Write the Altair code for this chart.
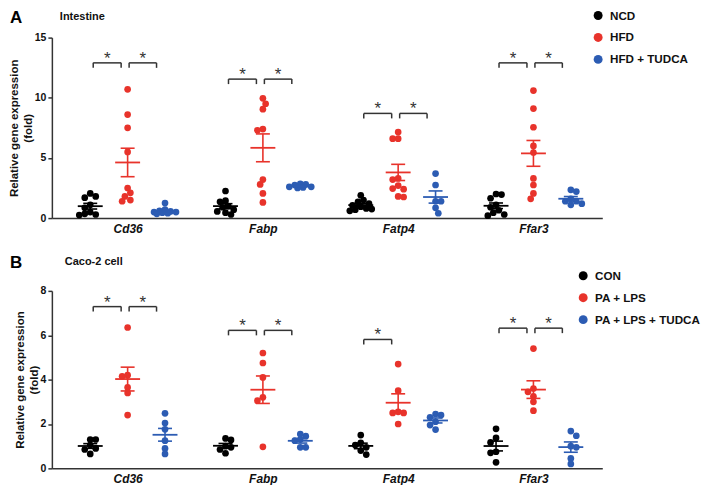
import math
import altair as alt
import pandas as pd

genes = ["Cd36", "Fabp", "Fatp4", "Ffar3"]

groups_a = ["NCD", "HFD", "HFD + TUDCA"]
groups_b = ["CON", "PA + LPS", "PA + LPS + TUDCA"]
group_colors = ["#000000", "#e8332b", "#2c5cb3"]

# Panel A - Intestine (one list per gene, in the order of `genes`)
a_ncd = [
    [1.8, 2.05, 1.7, 1.1, 0.85, 0.5, 0.3, 0.25, 0.35],
    [2.25, 1.45, 1.35, 1.0, 0.9, 0.7, 0.55, 0.45, 0.3],
    [1.9, 1.5, 1.35, 1.2, 1.05, 0.95, 0.8, 0.7, 0.6, 0.75],
    [1.95, 2.0, 1.65, 1.1, 0.9, 0.65, 0.45, 0.3, 0.2],
]
a_hfd = [
    [10.7, 8.6, 7.5, 5.5, 2.5, 2.1, 1.8, 1.4, 1.5],
    [9.95, 9.5, 9.05, 7.4, 7.3, 3.2, 2.8, 2.05, 1.3],
    [7.15, 6.6, 6.6, 3.3, 3.2, 2.7, 2.45, 2.4, 1.8, 1.75],
    [10.6, 9.1, 7.55, 6.0, 5.45, 3.3, 2.75, 2.05, 1.6],
]
a_tudca = [
    [1.25, 0.7, 0.6, 0.55, 0.5, 0.45, 0.4, 0.5, 0.35],
    [2.85, 2.8, 2.5, 2.55, 2.6, 2.75, 2.6],
    [3.7, 2.75, 1.4, 1.4, 0.85, 0.4],
    [2.35, 2.2, 1.6, 1.4, 1.4, 1.2, 1.1],
]

# Panel B - Caco-2 cell
b_con = [
    [1.3, 1.3, 1.05, 0.9, 0.85, 0.65],
    [1.28, 1.35, 0.95, 1.0, 0.68, 0.85],
    [1.5, 1.15, 1.05, 0.95, 0.8, 0.62],
    [1.78, 1.37, 1.17, 0.75, 0.7, 0.27],
]
b_palps = [
    [6.35, 4.15, 4.2, 3.65, 3.4, 2.4],
    [5.2, 4.75, 4.1, 3.2, 3.05, 0.97],
    [4.7, 3.5, 2.5, 2.5, 2.55, 2.0],
    [5.4, 3.6, 3.45, 3.25, 3.0, 2.6],
]
b_tudca = [
    [2.48, 2.04, 1.76, 1.25, 0.9, 0.65],
    [1.45, 1.3, 1.25, 1.55, 0.95, 0.95],
    [2.45, 2.4, 2.3, 2.1, 1.95, 1.75],
    [1.68, 1.47, 1.0, 0.95, 0.45, 0.2],
]

# significance brackets (height in data units, which comparisons are marked)
a_bracket_y = [12.9, 11.55, 8.7, 12.9]
a_sig_left = [True, True, True, True]
a_sig_right = [True, True, True, True]
b_bracket_y = [7.29, 6.22, 5.81, 6.32]
b_sig_left = [True, True, True, True]
b_sig_right = [True, True, False, True]

a_yticks = [0, 5, 10, 15]
b_yticks = [0, 2, 4, 6, 8]

# ---------------- layout ----------------
W = 552
HA = 181
HB = 178
D0, D1 = -0.56, 3.509
PXU = W / (D1 - D0)          # pixels per x unit
GOFF = 37.5 / PXU            # group offset inside a gene
FONT = "Liberation Sans"


def swarm(vals, ppu, d=5.5, maxoff=12.0):
    placed = []
    offs = [0.0] * len(vals)
    step = d / 2
    order = sorted(range(len(vals)), key=lambda i: -vals[i])
    for i in order:
        y = vals[i] * ppu
        cands = [0.0]
        k = 1
        while k * step <= maxoff + 1e-9:
            if len(placed) % 2:
                cands += [k * step, -k * step]
            else:
                cands += [-k * step, k * step]
            k += 1
        best, best_d = None, -1
        chosen = None
        for c in cands:
            md = min([math.hypot(c - px, y - py) for px, py in placed] or [1e9])
            if md >= d:
                chosen = c
                break
            if md > best_d:
                best, best_d = c, md
        if chosen is None:
            chosen = best
        placed.append((chosen, y))
        offs[i] = chosen
    return [o / PXU for o in offs]


def panel(series, groups, ymax, yticks, height, by, sig_l, sig_r,
          letter, title, lx, ly, letter_y, title_x, title_y):
    ppu = height / ymax
    cscale = alt.Scale(domain=groups, range=group_colors)
    xs = alt.Scale(domain=[D0, D1], nice=False, zero=False)
    ys = alt.Scale(domain=[0, ymax], nice=False)

    pts, stats = [], []
    for gi, (g, lists) in enumerate(zip(groups, series)):
        for ci, vals in enumerate(lists):
            center = ci + (gi - 1) * GOFF
            for v, o in zip(vals, swarm(vals, ppu)):
                pts.append({"group": g, "gene": genes[ci], "pos": center + o, "value": v})
            n = len(vals)
            m = sum(vals) / n
            sem = math.sqrt(sum((v - m) ** 2 for v in vals) / (n - 1)) / math.sqrt(n)
            stats.append({
                "group": g, "c": center, "mean": m, "lo": m - sem, "hi": m + sem,
                "m_lo": center - 12.5 / PXU, "m_hi": center + 12.5 / PXU,
                "c_lo": center - 7 / PXU, "c_hi": center + 7 / PXU,
            })
    pts = pd.DataFrame(pts)
    stats = pd.DataFrame(stats)

    leg = 5 / ppu
    segs, stars = [], []
    spans = [(-34.5 / PXU, -6.5 / PXU), (1.5 / PXU, 29 / PXU)]
    for ci in range(len(genes)):
        for flag, (a, b) in zip((sig_l[ci], sig_r[ci]), spans):
            if not flag:
                continue
            x1, x2, y = ci + a, ci + b, by[ci]
            segs += [
                {"x": x1, "x2": x2, "y": y, "y2": y},
                {"x": x1, "x2": x1, "y": y, "y2": y - leg},
                {"x": x2, "x2": x2, "y": y, "y2": y - leg},
            ]
            stars.append({"x": (x1 + x2) / 2, "y": y})
    segs = pd.DataFrame(segs)
    stars = pd.DataFrame(stars)

    xaxis = alt.Axis(
        values=[0, 1, 2, 3],
        labelExpr="[" + ",".join("'%s'" % g for g in genes) + "][datum.value]",
        title=None, ticks=False, grid=False, labelFlush=False,
        labelFontSize=12, labelFontWeight="bold", labelFontStyle="italic",
        labelFont=FONT, labelPadding=5, labelColor="#111",
        domainColor="#333", domainWidth=1.5,
    )
    yaxis = alt.Axis(
        values=yticks, title=["Relative gene expression", "(fold)"],
        titleFontSize=11.5, titleFontWeight="bold", titleFont=FONT,
        titleLineHeight=14, titlePadding=1, titleColor="#111",
        labelFontSize=10.5, labelFontWeight="bold", labelFont=FONT,
        labelPadding=2, labelColor="#111",
        tickSize=4, tickWidth=1.5, tickColor="#333",
        domainColor="#333", domainWidth=1.5, grid=False,
    )
    legend = alt.Legend(
        orient="none", legendX=lx, legendY=ly, title=None,
        symbolType="circle", symbolSize=80, symbolStrokeWidth=0,
        labelFontSize=11.7, labelFontWeight="bold", labelFont=FONT,
        labelColor="#111", labelOffset=6, rowPadding=9, padding=0,
    )

    points = alt.Chart(pts).mark_circle(size=45, opacity=1).encode(
        x=alt.X("pos:Q", scale=xs, axis=xaxis),
        y=alt.Y("value:Q", scale=ys, axis=yaxis),
        color=alt.Color("group:N", scale=cscale, legend=legend),
    )
    col = alt.Color("group:N", scale=cscale, legend=None)
    mean = alt.Chart(stats).mark_rule(strokeWidth=1.8).encode(
        x=alt.X("m_lo:Q", scale=xs, axis=xaxis), x2="m_hi:Q",
        y=alt.Y("mean:Q", scale=ys, axis=yaxis), color=col,
    )
    semv = alt.Chart(stats).mark_rule(strokeWidth=1.6).encode(
        x=alt.X("c:Q", scale=xs, axis=xaxis),
        y=alt.Y("lo:Q", scale=ys, axis=yaxis), y2="hi:Q", color=col,
    )
    cap_t = alt.Chart(stats).mark_rule(strokeWidth=1.6).encode(
        x=alt.X("c_lo:Q", scale=xs, axis=xaxis), x2="c_hi:Q",
        y=alt.Y("hi:Q", scale=ys, axis=yaxis), color=col,
    )
    cap_b = alt.Chart(stats).mark_rule(strokeWidth=1.6).encode(
        x=alt.X("c_lo:Q", scale=xs, axis=xaxis), x2="c_hi:Q",
        y=alt.Y("lo:Q", scale=ys, axis=yaxis), color=col,
    )
    brk = alt.Chart(segs).mark_rule(color="#333", strokeWidth=1.5).encode(
        x=alt.X("x:Q", scale=xs, axis=xaxis), x2="x2:Q",
        y=alt.Y("y:Q", scale=ys, axis=yaxis), y2="y2:Q",
    )
    star = alt.Chart(stars).mark_text(
        text="*", fontSize=17, font=FONT, baseline="alphabetic", dy=1, color="#333"
    ).encode(
        x=alt.X("x:Q", scale=xs, axis=xaxis),
        y=alt.Y("y:Q", scale=ys, axis=yaxis),
    )
    letter_t = alt.Chart(pd.DataFrame({"t": [letter]})).mark_text(
        align="left", baseline="top", fontSize=17, fontWeight="bold", font=FONT, color="#000"
    ).encode(x=alt.value(-42), y=alt.value(letter_y), text="t:N")
    title_t = alt.Chart(pd.DataFrame({"t": [title]})).mark_text(
        align="left", baseline="middle", fontSize=11, fontWeight="bold", font=FONT, color="#111"
    ).encode(x=alt.value(title_x), y=alt.value(title_y), text="t:N")

    return alt.layer(points, mean, semv, cap_t, cap_b, brk, star, letter_t, title_t).properties(
        width=W, height=height
    )


pa = panel([a_ncd, a_hfd, a_tudca], groups_a, 15, a_yticks, HA, a_bracket_y,
           a_sig_left, a_sig_right, "A", "Intestine", 542, -28, -28, 8, -21)
pb = panel([b_con, b_palps, b_tudca], groups_b, 8, b_yticks, HB, b_bracket_y,
           b_sig_left, b_sig_right, "B", "Caco-2 cell", 527, -21, -36, 13, -29)

chart = (
    alt.vconcat(pa, pb, spacing=20)
    .resolve_scale(color="independent")
    .resolve_legend(color="independent")
    .configure_view(stroke=None)
    .properties(padding=0)
)

chart.save("out.html", embed_options={"renderer": "svg", "actions": False})
